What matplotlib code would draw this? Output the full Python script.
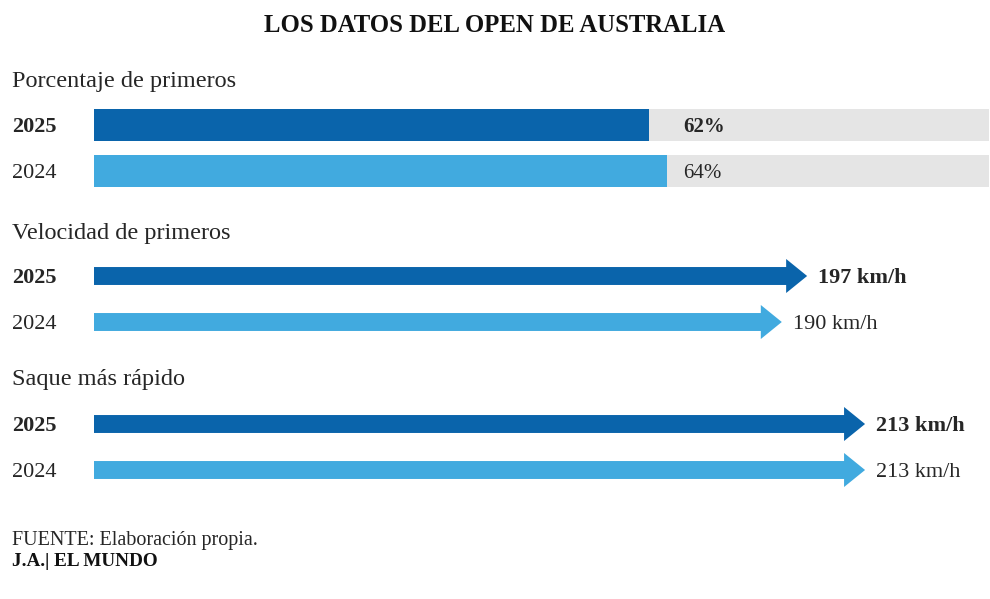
import matplotlib
matplotlib.use('Agg')
import matplotlib.pyplot as plt
from matplotlib.transforms import blended_transform_factory

W, H = 990, 599

C25 = '#0A64AB'   # 2025 - dark blue
C24 = '#41AADF'   # 2024 - light blue
CBG = '#E5E5E5'
TXT = '#262626'

years = ['2025', '2024']
pct_primeros = [62, 64]
vel_primeros = [197, 190]
saque_rapido = [213, 213]

FONT = 'Liberation Serif'
plt.rcParams['font.family'] = [FONT, 'DejaVu Serif']

fig = plt.figure(figsize=(W / 100, H / 100), dpi=100)
fig.patch.set_facecolor('white')


def px_axes(top, bottom, left=94, right=989):
    return fig.add_axes([left / W, 1 - bottom / H, (right - left) / W, (bottom - top) / H])


def year_labels(ax):
    tr = blended_transform_factory(fig.transFigure, ax.transData)
    for i, y in enumerate(years):
        ax.text(12 / W, i + 0.05, y, transform=tr, ha='left', va='center', fontsize=16,
                fontweight='bold' if i == 0 else 'normal', color=TXT)


def clean(ax):
    ax.set_ylim(1.5, -0.5)
    ax.axis('off')


fig.text(0.5, 1 - 25 / H, 'LOS DATOS DEL OPEN DE AUSTRALIA', ha='center', va='center',
         fontsize=17.8, fontweight='bold', color='#111111')

# --- Porcentaje de primeros
fig.text(12 / W, 1 - 81 / H, 'Porcentaje de primeros', ha='left', va='center', fontsize=17.5, color=TXT)
ax1 = px_axes(102, 194)
ax1.barh(range(2), [100, 100], height=0.7, color=CBG, zorder=1)
ax1.barh(range(2), pct_primeros, height=0.7, color=[C25, C24], zorder=2)
for i, v in enumerate(pct_primeros):
    ax1.text(max(pct_primeros) + 1.8, i + 0.05, f'{v}%', ha='left', va='center', fontsize=15,
             fontweight='bold' if i == 0 else 'normal', color=TXT)
ax1.set_xlim(0, 100)
clean(ax1)
year_labels(ax1)

XMAX = 895 / 3.62


def arrow_section(values, title, ytitle, top):
    fig.text(12 / W, 1 - ytitle / H, title, ha='left', va='center', fontsize=17.5, color=TXT)
    ax = px_axes(top, top + 92)
    for i, v in enumerate(values):
        ax.arrow(0, i, v, 0, width=0.39, head_width=0.74, head_length=5.8,
                 length_includes_head=True, color=[C25, C24][i], lw=0)
        ax.text(v + 3.0, i + 0.05, f'{v} km/h', ha='left', va='center', fontsize=16,
                fontweight='bold' if i == 0 else 'normal', color=TXT)
    ax.set_xlim(0, XMAX)
    clean(ax)
    year_labels(ax)


arrow_section(vel_primeros, 'Velocidad de primeros', 233, 253)
arrow_section(saque_rapido, 'Saque más rápido', 379, 401)

fig.text(12 / W, 1 - 541 / H, 'FUENTE: Elaboración propia.', ha='left', va='center', fontsize=14.5, color=TXT)
fig.text(12 / W, 1 - 561 / H, 'J.A.| EL MUNDO', ha='left', va='center', fontsize=13.8,
         fontweight='bold', color='#111111')

fig.savefig('out.png', dpi=100)
